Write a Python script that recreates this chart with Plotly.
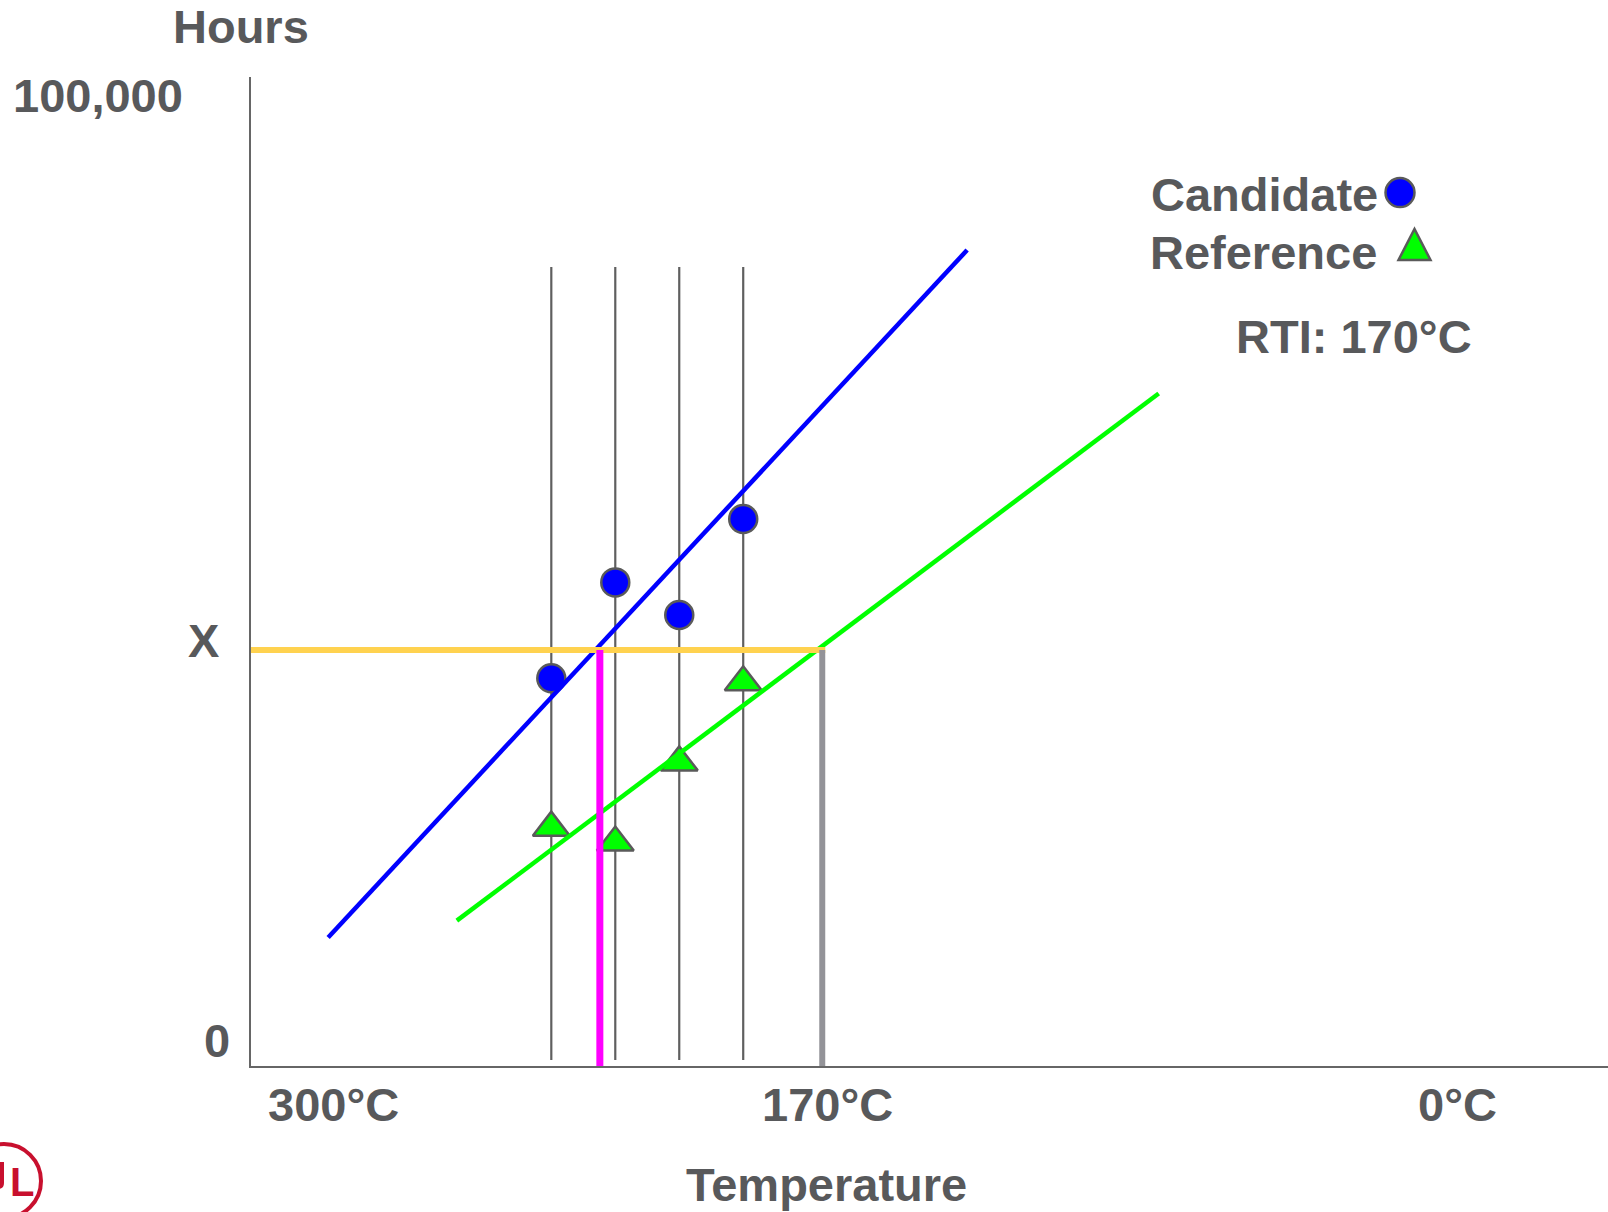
import plotly.graph_objects as go

# ---------------- data (schematic units) ----------------
test_temps = [242, 225, 208, 191]                 # test temperatures (°C)
candidate_hours = [39.2, 48.9, 45.6, 55.3]        # candidate points (relative hours scale 0-100)
reference_hours = [24.1, 22.6, 30.7, 38.8]        # reference points
candidate_fit_T = [301.3, 131.5]
candidate_fit_h = [13.0, 82.5]
reference_fit_T = [267.1, 80.6]
reference_fit_h = [14.7, 68.0]
x_hours = 42.06                                   # "X" hours threshold
candidate_cross_T = 229.1
rti_T = 170
vline_h = [0.6, 80.8]

x_tick_vals = [300, 170, 0]
x_tick_text = ["300°C", "170°C", "0°C"]
x_tick_shift = [0, 5, -4]
y_tick_vals = [100, x_hours, 0]
y_tick_text = ["100,000", "X", "0"]

# ---------------- figure geometry ----------------
W, H = 1608, 1212
L, R, T, B = 251, 0, 77, 146
PW, PH = W - L - R, H - T - B
X_RANGE = [321.8, -38.8]
Y_RANGE = [0, 100]

def px(xp):
    return (xp - L) / PW

def py(yp):
    return (H - B - yp) / PH

TXT = "#58595B"
FONT = "Liberation Sans, Arial, sans-serif"
FS = 47
UL_RED = "#C8102E"

fig = go.Figure()

# thin vertical lines at test temperatures
for t in test_temps:
    fig.add_trace(go.Scatter(x=[t, t], y=vline_h, mode="lines",
                             line=dict(color="#5f5f5f", width=2.2),
                             showlegend=False, hoverinfo="skip"))

# markers
fig.add_trace(go.Scatter(x=test_temps, y=candidate_hours, mode="markers",
                         marker=dict(symbol="circle", size=28, color="#0000FF",
                                     line=dict(color="#5a5a5a", width=2.5)),
                         showlegend=False, name="Candidate"))
fig.add_trace(go.Scatter(x=test_temps, y=reference_hours, mode="markers",
                         marker=dict(symbol="triangle-up", size=32, color="#00FF00",
                                     line=dict(color="#5a5a5a", width=2.5)),
                         showlegend=False, name="Reference"))

# fit lines
fig.add_trace(go.Scatter(x=candidate_fit_T, y=candidate_fit_h, mode="lines",
                         line=dict(color="#0000FF", width=4.5), showlegend=False))
fig.add_trace(go.Scatter(x=reference_fit_T, y=reference_fit_h, mode="lines",
                         line=dict(color="#00FF00", width=4.5), showlegend=False))

# X threshold (yellow)
fig.add_trace(go.Scatter(x=[X_RANGE[0] + 0.8, rti_T - 0.8], y=[x_hours, x_hours], mode="lines",
                         line=dict(color="#FFD24F", width=6), showlegend=False))
# candidate crossing (magenta)
fig.add_trace(go.Scatter(x=[candidate_cross_T, candidate_cross_T], y=[x_hours, 0], mode="lines",
                         line=dict(color="#FF00FF", width=7), showlegend=False))
# RTI drop (gray)
fig.add_trace(go.Scatter(x=[rti_T, rti_T], y=[x_hours, 0], mode="lines",
                         line=dict(color="#939398", width=6), showlegend=False))

ann = []
# x tick labels
for v, t_, s in zip(x_tick_vals, x_tick_text, x_tick_shift):
    ann.append(dict(x=v, y=0, xref="x", yref="y", text=t_, showarrow=False,
                    xanchor="center", yanchor="middle", xshift=s, yshift=-38,
                    font=dict(size=FS, color=TXT, family=FONT, weight="bold")))
# y tick labels
y_lab_x = [98, 203, 216.7]
y_lab_shift = [-18, 10, 26]
for v, t_, xp, s in zip(y_tick_vals, y_tick_text, y_lab_x, y_lab_shift):
    ann.append(dict(x=px(xp), y=v, xref="paper", yref="y", text=t_, showarrow=False,
                    xanchor="center", yanchor="middle", yshift=s,
                    font=dict(size=FS, color=TXT, family=FONT, weight="bold")))
# axis titles
ann.append(dict(x=px(240.7), y=py(26.5), xref="paper", yref="paper", text="Hours",
                showarrow=False, xanchor="center", yanchor="middle",
                font=dict(size=FS, color=TXT, family=FONT, weight="bold")))
ann.append(dict(x=px(826), y=py(1184), xref="paper", yref="paper", text="Temperature",
                showarrow=False, xanchor="center", yanchor="middle",
                font=dict(size=FS, color=TXT, family=FONT, weight="bold")))
# legend texts
ann.append(dict(x=px(1380), y=py(194), xref="paper", yref="paper", text="Candidate",
                showarrow=False, xanchor="right", yanchor="middle",
                font=dict(size=FS, color=TXT, family=FONT, weight="bold")))
ann.append(dict(x=px(1379), y=py(252), xref="paper", yref="paper", text="Reference",
                showarrow=False, xanchor="right", yanchor="middle",
                font=dict(size=FS, color=TXT, family=FONT, weight="bold")))
ann.append(dict(x=px(1354), y=py(336), xref="paper", yref="paper", text=f"RTI: {rti_T}°C",
                showarrow=False, xanchor="center", yanchor="middle",
                font=dict(size=FS, color=TXT, family=FONT, weight="bold")))
# logo letter (partially visible UL mark)
ann.append(dict(x=px(8), y=py(1182), xref="paper", yref="paper", text="L",
                showarrow=False, xanchor="left", yanchor="middle",
                font=dict(size=40, color=UL_RED, family=FONT, weight="bold")))

shapes = [
    # legend circle
    dict(type="circle", xref="paper", yref="paper", xsizemode="pixel", ysizemode="pixel",
         xanchor=px(1400), yanchor=py(192.6), x0=-14.5, x1=14.5, y0=-14.5, y1=14.5,
         fillcolor="#0000FF", line=dict(color="#5a5a5a", width=2.5)),
    # legend triangle
    dict(type="path", xref="paper", yref="paper", xsizemode="pixel", ysizemode="pixel",
         xanchor=px(1414.5), yanchor=py(245),
         path="M -16,-15 L 16,-15 L 0,16 Z",
         fillcolor="#00FF00", line=dict(color="#5a5a5a", width=2.5)),
    # logo ring
    dict(type="circle", xref="paper", yref="paper", xsizemode="pixel", ysizemode="pixel",
         xanchor=px(4), yanchor=py(1181), x0=-37, x1=37, y0=-37, y1=37,
         line=dict(color=UL_RED, width=4)),
    # logo: right stroke of the cut-off "U"
    dict(type="path", xref="paper", yref="paper", xsizemode="pixel", ysizemode="pixel",
         xanchor=px(0), yanchor=py(1175),
         path="M 0,13 L 4,13 L 4,-8 Q 4,-14 -2,-14 L -2,-10 Q 0,-10 0,-8 Z",
         fillcolor=UL_RED, line=dict(width=0)),
]

fig.update_layout(
    width=W, height=H,
    margin=dict(l=L, r=R, t=T, b=B, pad=0),
    paper_bgcolor="white", plot_bgcolor="white",
    showlegend=False,
    annotations=ann, shapes=shapes,
    xaxis=dict(range=X_RANGE, showline=True, linecolor="#666666", linewidth=2,
               showgrid=False, zeroline=False, showticklabels=False, ticks=""),
    yaxis=dict(range=Y_RANGE, showline=True, linecolor="#666666", linewidth=2,
               showgrid=False, zeroline=False, showticklabels=False, ticks=""),
)

fig.write_html("out.html", config={"displayModeBar": False},
               post_script="document.body.style.margin='0';document.body.style.overflow='hidden';")
